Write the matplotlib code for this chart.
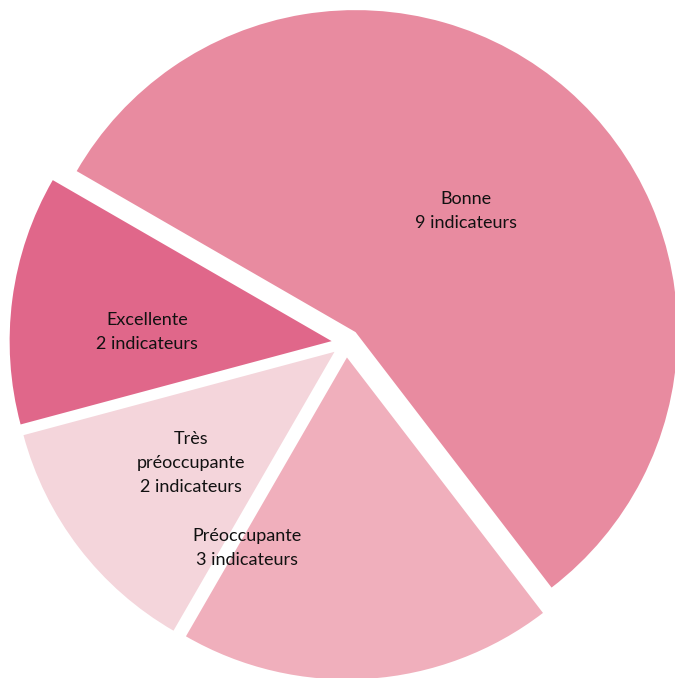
import matplotlib.pyplot as plt

# répartition des indicateurs
categories = ['Bonne', 'Préoccupante', 'Très\npréoccupante', 'Excellente']
values = [9, 3, 2, 2]
colors = ['#E88BA0', '#F0AFBC', '#F4D5DB', '#E0678A']

# label positions (data coords, pie radius = 1)
label_pos = [(0.373, 0.41), (-0.307, -0.637), (-0.481, -0.373), (-0.618, 0.034)]

fig = plt.figure(figsize=(6.75, 6.78), dpi=100)
ax = fig.add_axes([0, 0, 1, 1])

ax.pie(values, colors=colors, startangle=150, counterclock=False,
       explode=[0.045] * len(values), radius=1.0,
       wedgeprops=dict(linewidth=0))

for cat, v, (x, y) in zip(categories, values, label_pos):
    ax.text(x, y, '{}\n{} indicateurs'.format(cat, v), ha='center', va='center',
            fontsize=13, family='Lato', color='#111111', linespacing=1.6)

ax.set_xlim(-346 / 322, (675 - 346) / 322)
ax.set_ylim(-(678 - 343) / 322, 343 / 322)
ax.set_aspect('auto')
ax.axis('off')

fig.savefig('out.png', dpi=100)
